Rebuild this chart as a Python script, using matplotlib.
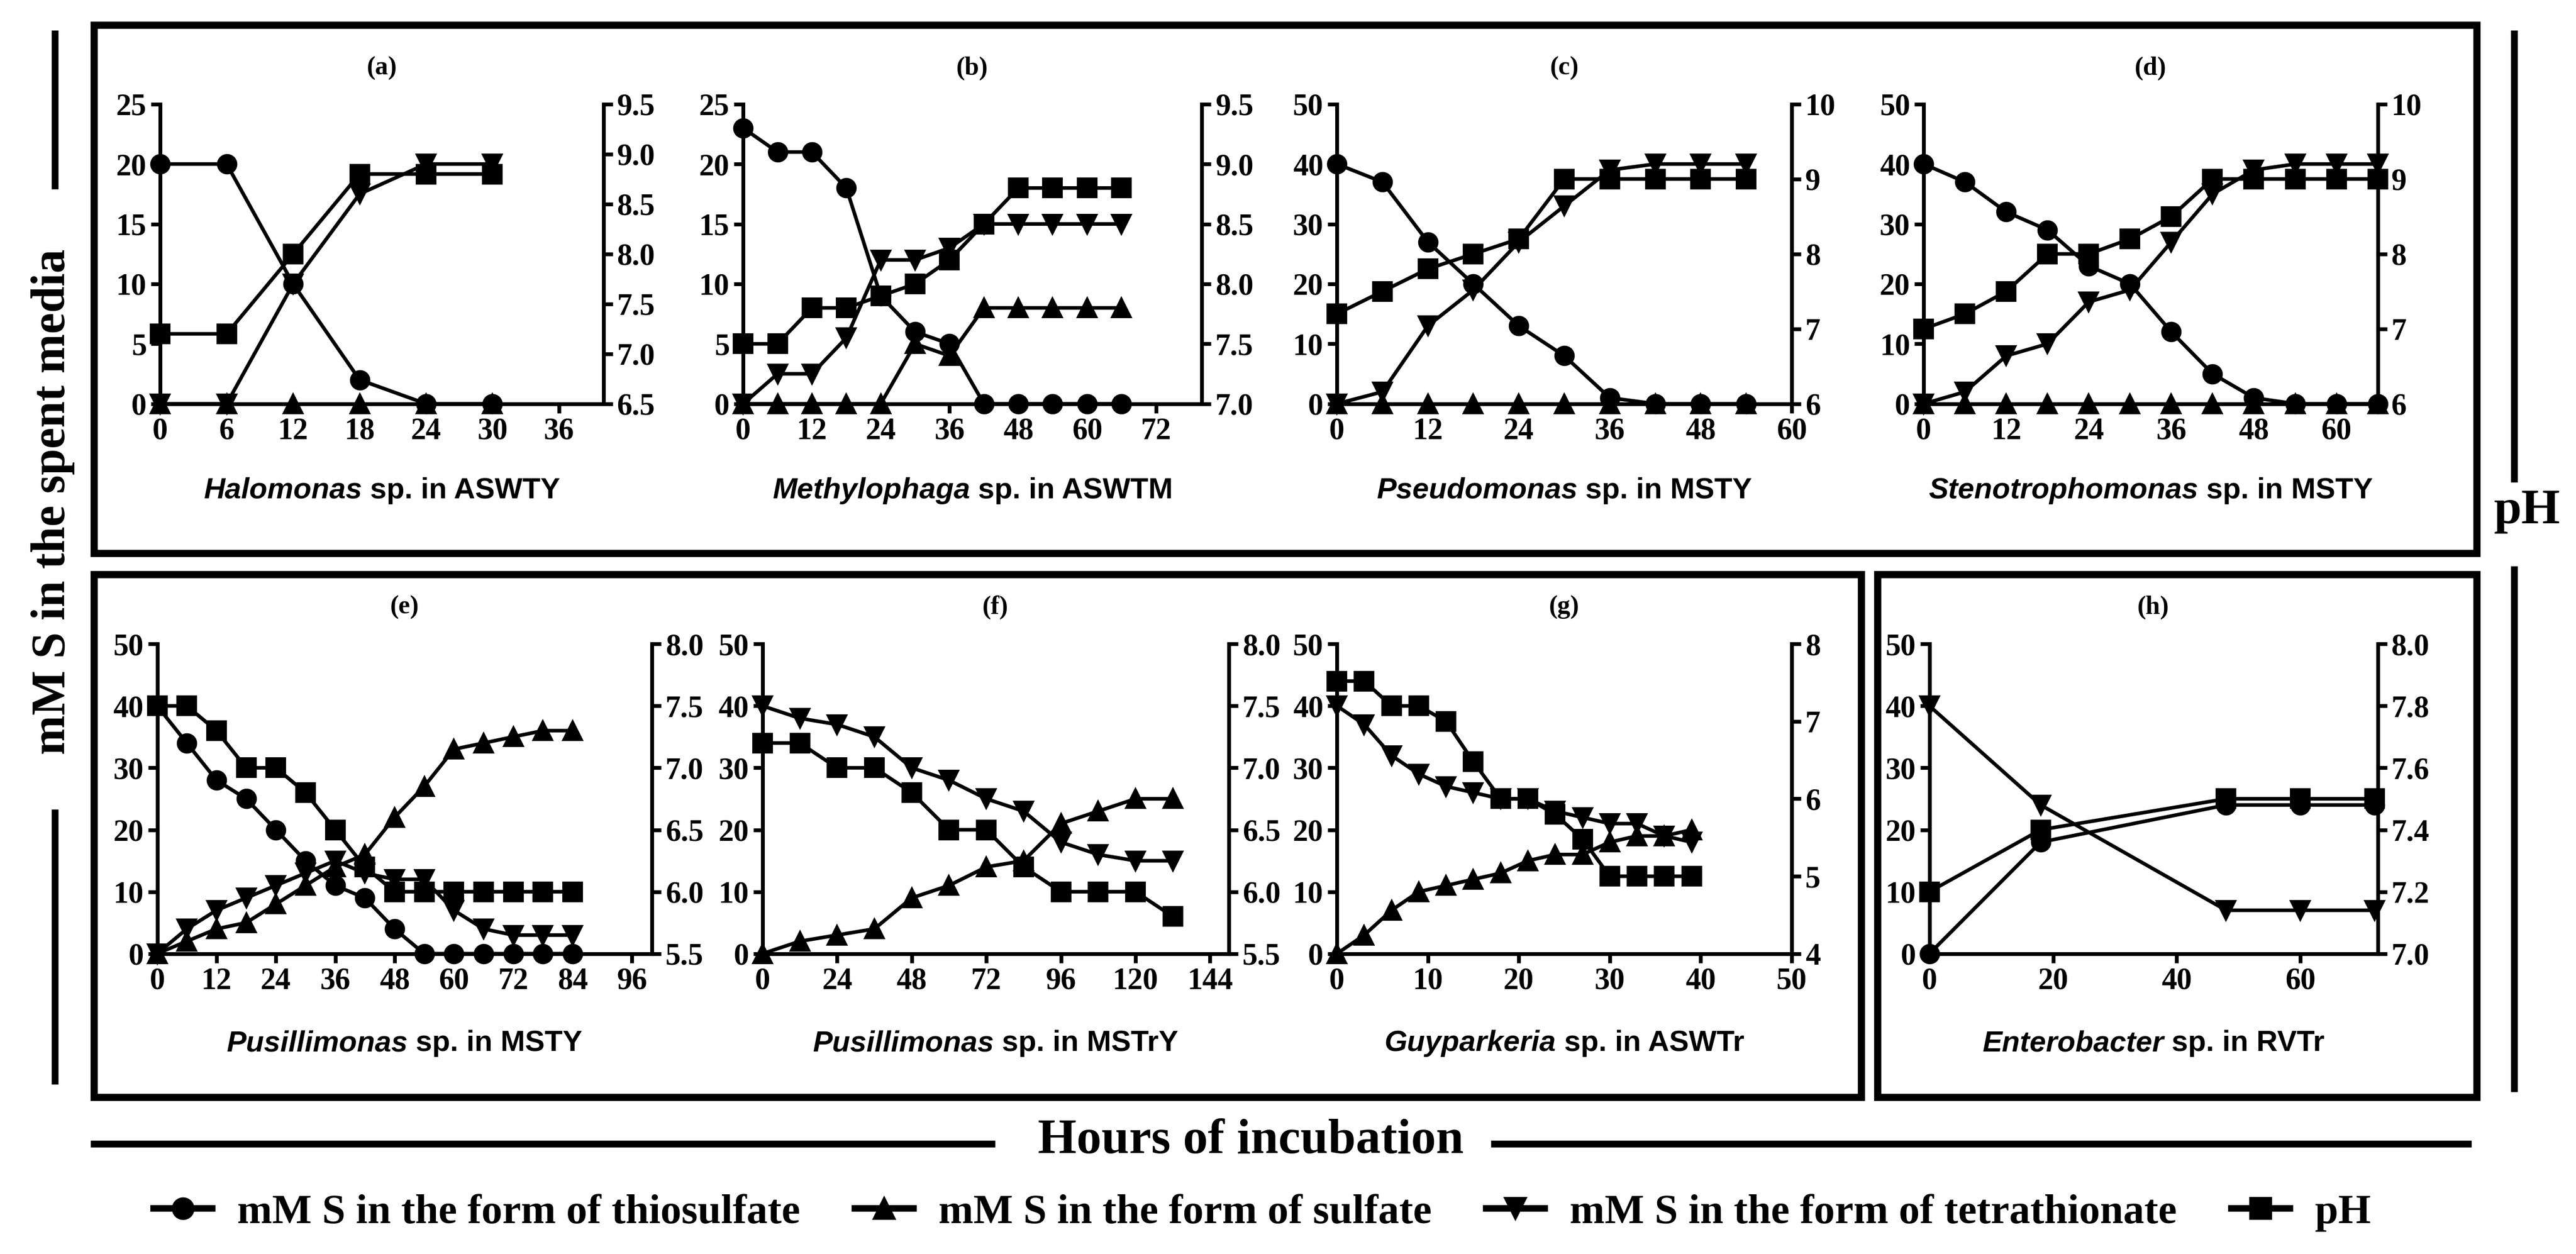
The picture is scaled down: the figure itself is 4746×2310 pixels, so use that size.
import matplotlib
matplotlib.use("Agg")
import matplotlib.pyplot as plt
import numpy as np
from matplotlib.lines import Line2D
from matplotlib.patches import Rectangle

# ---- data ----
a_x = [0, 6, 12, 18, 24, 30]
a_thio = [20, 20, 10, 2, 0, 0]
a_sulf = [0, 0, 0, 0, 0, 0]
a_tetra = [0, 0, 10, 17.5, 20, 20]
a_ph = [7.2, 7.2, 8.0, 8.8, 8.8, 8.8]

b_x = [0, 6, 12, 18, 24, 30, 36, 42, 48, 54, 60, 66]
b_thio = [23, 21, 21, 18, 9, 6, 5, 0, 0, 0, 0, 0]
b_sulf = [0, 0, 0, 0, 0, 5, 4, 8, 8, 8, 8, 8]
b_tetra = [0, 2.5, 2.5, 5.5, 12, 12, 13, 15, 15, 15, 15, 15]
b_ph = [7.5, 7.5, 7.8, 7.8, 7.9, 8.0, 8.2, 8.5, 8.8, 8.8, 8.8, 8.8]

c_x = [0, 6, 12, 18, 24, 30, 36, 42, 48, 54]
c_thio = [40, 37, 27, 20, 13, 8, 1, 0, 0, 0]
c_sulf = [0, 0, 0, 0, 0, 0, 0, 0, 0, 0]
c_tetra = [0, 2, 13, 19, 27, 33, 39, 40, 40, 40]
c_ph = [7.2, 7.5, 7.8, 8.0, 8.2, 9.0, 9.0, 9.0, 9.0, 9.0]

d_x = [0, 6, 12, 18, 24, 30, 36, 42, 48, 54, 60, 66]
d_thio = [40, 37, 32, 29, 23, 20, 12, 5, 1, 0, 0, 0]
d_sulf = [0, 0, 0, 0, 0, 0, 0, 0, 0, 0, 0, 0]
d_tetra = [0, 2, 8, 10, 17, 19, 27, 35, 39, 40, 40, 40]
d_ph = [7.0, 7.2, 7.5, 8.0, 8.0, 8.2, 8.5, 9.0, 9.0, 9.0, 9.0, 9.0]

e_x = [0, 6, 12, 18, 24, 30, 36, 42, 48, 54, 60, 66, 72, 78, 84]
e_thio = [40, 34, 28, 25, 20, 15, 11, 9, 4, 0, 0, 0, 0, 0, 0]
e_sulf = [0, 2, 4, 5, 8, 11, 14, 16, 22, 27, 33, 34, 35, 36, 36]
e_tetra = [0, 4, 7, 9, 11, 13, 15, 13, 12, 12, 7, 4, 3, 3, 3]
e_ph = [7.5, 7.5, 7.3, 7.0, 7.0, 6.8, 6.5, 6.2, 6.0, 6.0, 6.0, 6.0, 6.0, 6.0, 6.0]

f_x = [0, 12, 24, 36, 48, 60, 72, 84, 96, 108, 120, 132]
f_sulf = [0, 2, 3, 4, 9, 11, 14, 15, 21, 23, 25, 25]
f_tetra = [40, 38, 37, 35, 30, 28, 25, 23, 18, 16, 15, 15]
f_ph = [7.2, 7.2, 7.0, 7.0, 6.8, 6.5, 6.5, 6.2, 6.0, 6.0, 6.0, 5.8]

g_x = [0, 3, 6, 9, 12, 15, 18, 21, 24, 27, 30, 33, 36, 39]
g_sulf = [0, 3, 7, 10, 11, 12, 13, 15, 16, 16, 18, 19, 19, 20]
g_tetra = [40, 37, 32, 29, 27, 26, 25, 25, 23, 22, 21, 21, 19, 18]
g_ph = [7.52, 7.52, 7.2, 7.2, 7.0, 6.48, 6.0, 6.0, 5.8, 5.48, 5.0, 5.0, 5.0, 5.0]

h_x = [0, 18, 48, 60, 72]
h_thio = [0, 18, 24, 24, 24]
h_tetra = [40, 24, 7, 7, 7]
h_ph = [7.2, 7.4, 7.5, 7.5, 7.5]

legend_labels = ["mM S in the form of thiosulfate", "mM S in the form of sulfate",
                 "mM S in the form of tetrathionate", "pH"]

SERIF = "Liberation Serif"
SANS = "Liberation Sans"

plt.rcParams["font.family"] = SERIF

fig = plt.figure(figsize=(15.82, 7.7), dpi=300)

LW = 1.6
MS = 8


def panel(rect, tag, genus, rest, x, thio, sulf, tetra, ph,
          xlim, xticks, ylim, yticks, rlim, rticks, rfmt):
    ax = fig.add_axes(rect)
    ax2 = ax.twinx()
    for xs, ys, m in ((x, thio, "o"), (x, sulf, "^"), (x, tetra, "v")):
        if ys is not None:
            ax.plot(xs, ys, color="black", lw=LW, marker=m, ms=MS, clip_on=False, zorder=3)
    ax2.plot(x, ph, color="black", lw=LW, marker="s", ms=MS, clip_on=False, zorder=3)

    ax.set_xlim(*xlim)
    ax.set_xticks(xticks)
    ax.set_ylim(*ylim)
    ax.set_yticks(yticks)
    ax2.set_ylim(*rlim)
    ax2.set_yticks(rticks)
    ax2.set_yticklabels([rfmt % v for v in rticks])

    for a in (ax, ax2):
        a.spines["top"].set_visible(False)
        for s in a.spines.values():
            s.set_linewidth(1.7)
        a.tick_params(direction="out", length=4, width=1.7, labelsize=13.5, pad=2)
        for lab in a.get_xticklabels() + a.get_yticklabels():
            lab.set_fontweight("bold")
            lab.set_fontfamily(SERIF)
    ax.spines["right"].set_visible(False)
    ax2.spines["left"].set_visible(False)
    ax2.spines["bottom"].set_visible(False)

    ax.text(0.5, 1.08, tag, transform=ax.transAxes, ha="center", va="bottom",
            fontsize=11.5, fontweight="bold", family=SERIF)
    t1 = ax.text(0.5, -0.29, genus, transform=ax.transAxes, ha="left", va="center",
                 fontsize=13, fontweight="bold", style="italic", family=SANS)
    t2 = ax.annotate(" " + rest, xy=(1, 0.5), xycoords=t1, ha="left", va="center",
                     fontsize=13, fontweight="bold", family=SANS)
    return ax, t1, t2


labels = []
top_b, top_h = 0.678, 0.239
bot_b, bot_h = 0.2395, 0.247

labels.append(panel([0.0622, top_b, 0.172, top_h], "(a)", "Halomonas", "sp. in ASWTY",
                    a_x, a_thio, a_sulf, a_tetra, a_ph,
                    (0, 40), np.arange(0, 37, 6), (0, 25), np.arange(0, 26, 5),
                    (6.5, 9.5), np.arange(6.5, 9.51, 0.5), "%.1f"))
labels.append(panel([0.2885, top_b, 0.178, top_h], "(b)", "Methylophaga", "sp. in ASWTM",
                    b_x, b_thio, b_sulf, b_tetra, b_ph,
                    (0, 80), np.arange(0, 73, 12), (0, 25), np.arange(0, 26, 5),
                    (7.0, 9.5), np.arange(7.0, 9.51, 0.5), "%.1f"))
labels.append(panel([0.519, top_b, 0.1765, top_h], "(c)", "Pseudomonas", "sp. in MSTY",
                    c_x, c_thio, c_sulf, c_tetra, c_ph,
                    (0, 60), np.arange(0, 61, 12), (0, 50), np.arange(0, 51, 10),
                    (6, 10), np.arange(6, 11, 1), "%d"))
labels.append(panel([0.7468, top_b, 0.1762, top_h], "(d)", "Stenotrophomonas", "sp. in MSTY",
                    d_x, d_thio, d_sulf, d_tetra, d_ph,
                    (0, 66), np.arange(0, 61, 12), (0, 50), np.arange(0, 51, 10),
                    (6, 10), np.arange(6, 11, 1), "%d"))
labels.append(panel([0.061, bot_b, 0.192, bot_h], "(e)", "Pusillimonas", "sp. in MSTY",
                    e_x, e_thio, e_sulf, e_tetra, e_ph,
                    (0, 100), np.arange(0, 97, 12), (0, 50), np.arange(0, 51, 10),
                    (5.5, 8.0), np.arange(5.5, 8.01, 0.5), "%.1f"))
labels.append(panel([0.296, bot_b, 0.181, bot_h], "(f)", "Pusillimonas", "sp. in MSTrY",
                    f_x, None, f_sulf, f_tetra, f_ph,
                    (0, 150), np.arange(0, 145, 24), (0, 50), np.arange(0, 51, 10),
                    (5.5, 8.0), np.arange(5.5, 8.01, 0.5), "%.1f"))
labels.append(panel([0.519, bot_b, 0.1765, bot_h], "(g)", "Guyparkeria", "sp. in ASWTr",
                    g_x, None, g_sulf, g_tetra, g_ph,
                    (0, 50), np.arange(0, 51, 10), (0, 50), np.arange(0, 51, 10),
                    (4, 8), np.arange(4, 9, 1), "%d"))
labels.append(panel([0.749, bot_b, 0.174, bot_h], "(h)", "Enterobacter", "sp. in RVTr",
                    h_x, h_thio, None, h_tetra, h_ph,
                    (0, 72.5), np.arange(0, 61, 20), (0, 50), np.arange(0, 51, 10),
                    (7.0, 8.0), np.arange(7.0, 8.01, 0.2), "%.1f"))

# centre the two-part species labels under each panel
fig.canvas.draw()
r = fig.canvas.get_renderer()
for ax, t1, t2 in labels:
    w = t1.get_window_extent(r).width + t2.get_window_extent(r).width
    wa = ax.get_window_extent(r).width
    t1.set_x(0.5 - 0.5 * w / wa)

# frames
for x0, y0, x1, y1 in ((0.0365, 0.559, 0.9615, 0.980),
                       (0.0365, 0.125, 0.7224, 0.542),
                       (0.7288, 0.125, 0.9615, 0.542)):
    fig.add_artist(Rectangle((x0, y0), x1 - x0, y1 - y0, transform=fig.transFigure,
                             fill=False, lw=3.2, edgecolor="black"))

# outer axis titles with rules
fig.text(0.0205, 0.60, "mM S in the spent media", rotation=90, ha="center", va="center",
         fontsize=21, fontweight="bold", family=SERIF)
fig.add_artist(Line2D([0.0212, 0.0212], [0.852, 0.973], transform=fig.transFigure, lw=3, color="black"))
fig.add_artist(Line2D([0.0212, 0.0212], [0.138, 0.352], transform=fig.transFigure, lw=3, color="black"))

fig.text(0.981, 0.592, "pH", ha="center", va="center", fontsize=22, fontweight="bold", family=SERIF)
fig.add_artist(Line2D([0.976, 0.976], [0.618, 0.973], transform=fig.transFigure, lw=3, color="black"))
fig.add_artist(Line2D([0.976, 0.976], [0.132, 0.546], transform=fig.transFigure, lw=3, color="black"))

fig.text(0.4855, 0.090, "Hours of incubation", ha="center", va="center", fontsize=22,
         fontweight="bold", family=SERIF)
fig.add_artist(Line2D([0.0365, 0.385], [0.088, 0.088], transform=fig.transFigure, lw=3, color="black"))
fig.add_artist(Line2D([0.58, 0.958], [0.088, 0.088], transform=fig.transFigure, lw=3, color="black"))

handles = [Line2D([], [], color="black", lw=LW * 1.8, marker=m, ms=MS + 1)
           for m in ("o", "^", "v", "s")]
fig.legend(handles, legend_labels, loc="center", bbox_to_anchor=(0.49, 0.033), ncol=4,
           frameon=False, handlelength=1.4, columnspacing=1.3, handletextpad=0.6,
           prop={"family": SERIF, "size": 18.5, "weight": "bold"})

fig.savefig("out.png", dpi=300)
